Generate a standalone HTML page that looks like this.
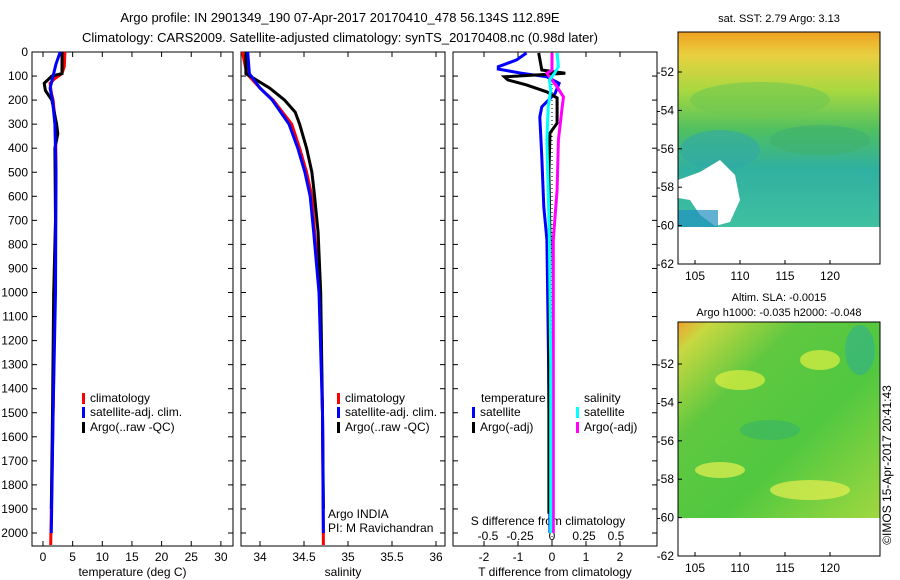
<!DOCTYPE html>
<html><head><meta charset="utf-8"><style>
body{margin:0;background:#fff}
svg{display:block;font-family:"Liberation Sans",sans-serif;font-size:12px}
</style></head><body>
<svg id="s" width="900" height="580">
<defs>
<linearGradient id="g1" x1="0" y1="0" x2="0" y2="1">
<stop offset="0" stop-color="#f0a020"/><stop offset="0.12" stop-color="#e8d040"/><stop offset="0.3" stop-color="#a8d840"/><stop offset="0.5" stop-color="#50c060"/><stop offset="0.7" stop-color="#30b0a0"/><stop offset="1" stop-color="#40c0a0"/></linearGradient>
<linearGradient id="g2" x1="0" y1="0" x2="1" y2="1">
<stop offset="0" stop-color="#f0a030"/><stop offset="0.08" stop-color="#c8d840"/><stop offset="0.3" stop-color="#60c840"/><stop offset="0.6" stop-color="#50c840"/><stop offset="1" stop-color="#a0d840"/></linearGradient>
</defs>
<text x="340" y="22" text-anchor="middle" font-size="13">Argo profile: IN 2901349_190 07-Apr-2017 20170410_478 56.134S 112.89E</text>
<text x="340" y="42" text-anchor="middle" font-size="13">Climatology: CARS2009. Satellite-adjusted climatology: synTS_20170408.nc (0.98d later)</text>
<g id="p"></g>
<!-- maps -->
<g>
<text x="779" y="22" text-anchor="middle" font-size="11">sat. SST: 2.79 Argo: 3.13</text>
<rect x="678" y="32" width="202" height="195" fill="url(#g1)"/>
<ellipse cx="760" cy="100" rx="70" ry="18" fill="#70c850" opacity="0.6"/>
<ellipse cx="720" cy="150" rx="40" ry="20" fill="#30a8a8" opacity="0.6"/>
<ellipse cx="820" cy="140" rx="50" ry="15" fill="#40b070" opacity="0.6"/>
<path d="M678 180 L700 172 L720 160 L735 175 L740 200 L730 222 L715 226 L700 215 L690 200 L678 198 Z" fill="#fff"/>
<rect x="678" y="210" width="40" height="17" fill="#2090c0" opacity="0.7"/>
<rect x="678" y="227" width="202" height="37" fill="#fff"/>
<rect x="678" y="32" width="202" height="232" fill="none" stroke="#000"/>
</g>
<g>
<text x="779" y="301" text-anchor="middle" font-size="11">Altim. SLA: -0.0015</text>
<text x="779" y="316" text-anchor="middle" font-size="11">Argo h1000: -0.035 h2000: -0.048</text>
<rect x="678" y="322" width="202" height="196" fill="url(#g2)"/>
<ellipse cx="740" cy="380" rx="25" ry="10" fill="#e0f040" opacity="0.7"/>
<ellipse cx="820" cy="360" rx="20" ry="10" fill="#e0f040" opacity="0.7"/>
<ellipse cx="770" cy="430" rx="30" ry="10" fill="#30b070" opacity="0.5"/>
<ellipse cx="720" cy="470" rx="25" ry="8" fill="#e8f050" opacity="0.7"/>
<ellipse cx="810" cy="490" rx="40" ry="10" fill="#e8f050" opacity="0.7"/>
<ellipse cx="860" cy="350" rx="15" ry="25" fill="#30b090" opacity="0.6"/>
<rect x="678" y="322" width="202" height="234" fill="none" stroke="#000"/>
</g>
<text transform="translate(891,465) rotate(-90)" text-anchor="middle" font-size="12">©IMOS 15-Apr-2017 20:41:43</text>
</svg>
<script>
const depthTicks=[0,100,200,300,400,500,600,700,800,900,1000,1100,1200,1300,1400,1500,1600,1700,1800,1900,2000];
const tempTicks=[0,5,10,15,20,25,30];
const salTicks=[34,34.5,35,35.5,36];
const tdTicks=[-2,-1,0,1,2];
const sdTicks=[-0.5,-0.25,0,0.25,0.5];
const lonTicks=[105,110,115,120];
const latTicks=[-52,-54,-56,-58,-60,-62];
// temperature profiles [depth],[value]
const tDepthClim=[0,60,90,110,130,170,200,300,500,1000,1500,2050];
const tClim=[3.7,3.6,3.2,2.0,1.2,1.4,1.7,2.1,2.2,2.0,1.7,1.3];
const tDepthSat=[0,50,100,150,200,300,500,1000,1500,2000];
const tSat=[2.9,2.2,1.7,1.2,1.6,2.0,2.2,2.1,1.7,1.4];
const tDepthArgo=[0,90,100,130,160,200,300,340,400,700,1000,1500,1900];
const tArgo=[3.2,3.2,1.5,0.2,0.4,1.5,2.3,2.5,2.0,2.1,1.8,1.6,1.4];
// salinity profiles
const sDepthClim=[0,90,150,200,300,400,500,600,750,1000,1500,2050];
const sClim=[33.8,33.85,34.0,34.15,34.36,34.45,34.53,34.59,34.62,34.68,34.71,34.72];
const sDepthSat=[0,90,150,200,300,400,500,600,750,1000,1500,2000];
const sSat=[33.86,33.88,34.0,34.14,34.33,34.43,34.51,34.57,34.61,34.67,34.71,34.72];
const sDepthArgo=[0,90,150,200,250,300,400,500,600,750,1000,1500,1900];
const sArgo=[33.84,33.84,34.11,34.28,34.4,34.45,34.53,34.59,34.62,34.66,34.69,34.71,34.72];
// difference profiles
const dDepthTSat=[4,33,61,71,88,103,130,172,228,270,436,644,780,1300,2000];
const tDiffSat=[-0.75,-1.04,-1.58,-1.58,-0.9,-0.15,0.21,0.09,-0.3,-0.36,-0.3,-0.24,-0.15,-0.1,-0.06];
const dDepthTArgo=[4,75,88,103,116,137,166,191,296,337,504,780,1300,1920];
const tDiffArgo=[-0.39,-0.3,0.39,-1.4,-1.3,-0.75,-0.15,0.15,0.15,-0.06,-0.09,-0.06,-0.09,-0.09];
const dDepthSArgo=[4,75,88,103,145,187,228,366,574,780,1300,2000];
const sDiffArgo=[0,0,-0.04,-0.02,0.04,0.09,0.08,0.05,0.04,0.01,0.01,0.01];
const dDepthSSat=[4,61,88,116,158,228,366,574,780,1300,2000];
const sDiffSat=[0.04,0.05,0.02,-0.02,-0.01,-0.03,-0.04,-0.03,-0.02,-0.01,-0.01];

const NS='http://www.w3.org/2000/svg';
const G=document.getElementById('p');
function el(t,a,par){const e=document.createElementNS(NS,t);for(const k in a)e.setAttribute(k,a[k]);(par||G).appendChild(e);return e;}
const Y=d=>52+d*0.2405;
const TOP=52,BOT=546;
function panel(name,x0,x1,xs,ticks,fmt,label,leftLabels){
  const g=el('g',{});
  
  
  el('rect',{x:x0,y:TOP,width:x1-x0,height:BOT-TOP,fill:'none',stroke:'#000'},g);
  depthTicks.forEach(d=>{
    el('line',{x1:x0,x2:x0+5,y1:Y(d),y2:Y(d),stroke:'#000'},g);
    el('line',{x1:x1,x2:x1-5,y1:Y(d),y2:Y(d),stroke:'#000'},g);
    if(leftLabels){const t=el('text',{x:x0-4,y:Y(d)+4,'text-anchor':'end'},g);t.textContent=d;}
  });
  ticks.forEach(v=>{
    const x=xs(v);
    el('line',{x1:x,x2:x,y1:BOT,y2:BOT-5,stroke:'#000'},g);
    el('line',{x1:x,x2:x,y1:TOP,y2:TOP+5,stroke:'#000'},g);
    const t=el('text',{x:x,y:BOT+15,'text-anchor':'middle'},g);t.textContent=fmt(v);
  });
  const t=el('text',{x:(x0+x1)/2,y:BOT+30,'text-anchor':'middle'},g);t.textContent=label;
  return g;
}
function line(g,name,ds,vs,xs,col,w){
  const pts=ds.map((d,i)=>xs(vs[i]).toFixed(1)+','+Y(d).toFixed(1)).join(' ');
  const p=el('polyline',{points:pts,fill:'none',stroke:col,'stroke-width':w||3},g);
  
  
}
function legend(g,x,y,col,txt){
  el('rect',{x:x,y:y-9,width:3,height:11,fill:col},g);
  const t=el('text',{x:x+8,y:y},g);t.textContent=txt;
}
// panel 1
const xT=v=>43+v*5.93;
const g1=panel('temperature-panel',32,233,xT,tempTicks,v=>v,'temperature (deg C)',true);
line(g1,'temp-climatology',tDepthClim,tClim,xT,'#f00');
line(g1,'temp-argo',tDepthArgo,tArgo,xT,'#000');
line(g1,'temp-satellite-adj',tDepthSat,tSat,xT,'#00f');
legend(g1,82,402,'#f00','climatology');legend(g1,82,416,'#00f','satellite-adj. clim.');legend(g1,82,431,'#000','Argo(..raw -QC)');
// panel 2
const xS=v=>260+(v-34)*88;
const g2=panel('salinity-panel',241,445,xS,salTicks,v=>v,'salinity',false);
line(g2,'sal-climatology',sDepthClim,sClim,xS,'#f00');
line(g2,'sal-argo',sDepthArgo,sArgo,xS,'#000');
line(g2,'sal-satellite-adj',sDepthSat,sSat,xS,'#00f');
legend(g2,337,402,'#f00','climatology');legend(g2,337,416,'#00f','satellite-adj. clim.');legend(g2,337,431,'#000','Argo(..raw -QC)');
let t=el('text',{x:328,y:518},g2);t.textContent='Argo INDIA';
t=el('text',{x:328,y:532},g2);t.textContent='PI: M Ravichandran';
// panel 3
const xTD=v=>552+v*34, xSD=v=>552+v*128;
const g3=panel('difference-panel',453,657,xTD,tdTicks,v=>v,'T difference from climatology',false);
sdTicks.forEach(v=>{const tt=el('text',{x:xSD(v),y:540,'text-anchor':'middle'},g3);tt.textContent=v;});
t=el('text',{x:548,y:525,'text-anchor':'middle'},g3);t.textContent='S difference from climatology';
el('line',{x1:xTD(0),x2:xTD(0),y1:TOP,y2:BOT,stroke:'#000','stroke-dasharray':'1,3'},g3);
line(g3,'tdiff-satellite',dDepthTSat,tDiffSat,xTD,'#00f');
line(g3,'tdiff-argo',dDepthTArgo,tDiffArgo,xTD,'#000');
line(g3,'sdiff-argo',dDepthSArgo,sDiffArgo,xSD,'#f0f');
line(g3,'sdiff-satellite',dDepthSSat,sDiffSat,xSD,'#0ff');
t=el('text',{x:481,y:402},g3);t.textContent='temperature';
t=el('text',{x:584,y:402},g3);t.textContent='salinity';
legend(g3,472,416,'#00f','satellite');legend(g3,472,431,'#000','Argo(-adj)');
legend(g3,576,416,'#0ff','satellite');legend(g3,576,431,'#f0f','Argo(-adj)');
// map axes
const svg=document.getElementById('s');
function mapAxes(name,y0,y1,latY){
  const g=el('g',{},svg);
  
  
  const lx=v=>695+(v-105)*9;
  lonTicks.forEach(v=>{el('line',{x1:lx(v),x2:lx(v),y1:y1,y2:y1-4,stroke:'#000'},g);
    const tt=el('text',{x:lx(v),y:y1+16,'text-anchor':'middle'},g);tt.textContent=v;});
  latTicks.forEach(v=>{const y=latY(v);el('line',{x1:678,x2:682,y1:y,y2:y,stroke:'#000'},g);
    const tt=el('text',{x:674,y:y+4,'text-anchor':'end'},g);tt.textContent=v;});
}
mapAxes('sst-map-axes',32,264,v=>72+(-52-v)*19.2);
mapAxes('sla-map-axes',322,556,v=>364+(-52-v)*19.2);
</script>
</body></html>
